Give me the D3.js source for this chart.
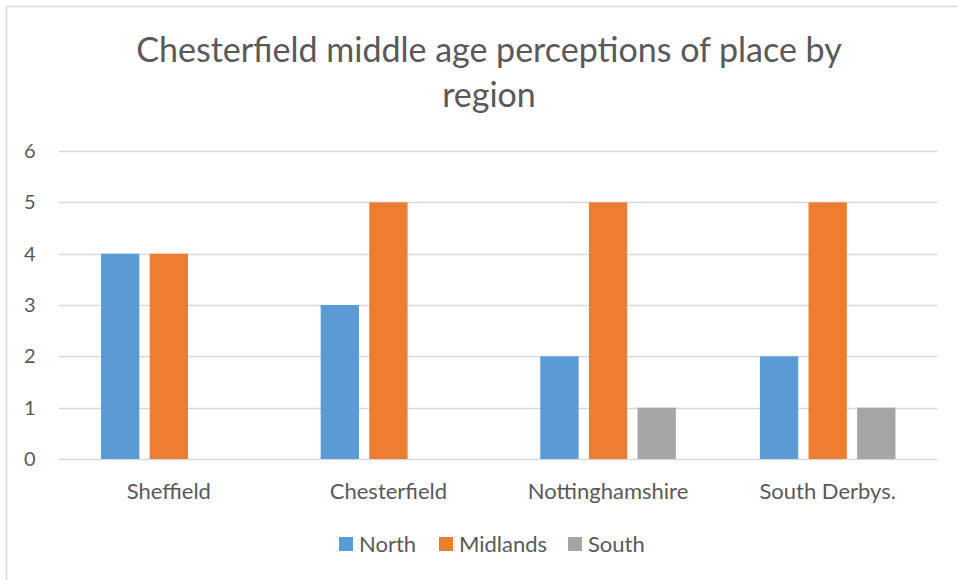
<!DOCTYPE html>
<html><head><meta charset="utf-8">
<script src="https://cdn.jsdelivr.net/npm/d3@7"></script>
<style>html,body{margin:0;padding:0;background:#fff;}svg{display:block;}</style>
</head><body>
<script>
const categories = ["Sheffield", "Chesterfield", "Nottinghamshire", "South Derbys."];
const seriesNames = ["North", "Midlands", "South"];
const northValues = [4, 3, 2, 2];
const midlandsValues = [4, 5, 5, 5];
const southValues = [0, 0, 1, 1];
const yTicks = [0, 1, 2, 3, 4, 5, 6];
const colors = ["#5B9BD5", "#ED7D31", "#A5A5A5"];
const titleLines = ["Chesterfield middle age perceptions of place by", "region"];

const series = [northValues, midlandsValues, southValues];
const W = 958, H = 580;
const font = "Lato, 'Open Sans', sans-serif";
const textColor = "#595959";

const svg = d3.select("body").append("svg").attr("width", W).attr("height", H);
svg.append("rect").attr("x", 6.5).attr("y", 6.5).attr("width", W + 10).attr("height", H + 10)
  .attr("fill", "#fff").attr("stroke", "#D9D9D9").attr("stroke-width", 1.5);

const x = d3.scaleBand().domain(categories).range([59, 937.5]).paddingInner(0).paddingOuter(0);
const xi = d3.scaleBand().domain(seriesNames).range([0, x.bandwidth()]).paddingInner(0.212).paddingOuter(0.865);
const y = d3.scaleLinear().domain([0, 6]).range([459, 151]);

// gridlines
svg.append("g").selectAll("line").data(yTicks).join("line")
  .attr("x1", 59).attr("x2", 937.5)
  .attr("y1", d => Math.round(y(d)) + 0.5).attr("y2", d => Math.round(y(d)) + 0.5)
  .attr("stroke", "#D9D9D9").attr("stroke-width", 1.3);

// y tick labels
svg.append("g").selectAll("text").data(yTicks).join("text")
  .attr("x", 35.5).attr("y", d => y(d) + 7)
  .attr("text-anchor", "end").attr("font-family", font).attr("font-size", 20)
  .attr("fill", textColor).text(d => d);

// bars
const groups = svg.append("g").selectAll("g").data(categories).join("g")
  .attr("transform", c => `translate(${x(c)},0)`);
groups.selectAll("rect").data((c, ci) => seriesNames.map((s, si) => ({s, si, v: series[si][ci]})))
  .join("rect")
  .attr("x", d => xi(d.s)).attr("width", xi.bandwidth())
  .attr("y", d => y(d.v)).attr("height", d => y(0) - y(d.v))
  .attr("fill", d => colors[d.si]);

// category labels
svg.append("g").selectAll("text").data(categories).join("text")
  .attr("x", c => x(c) + x.bandwidth() / 2).attr("y", 499)
  .attr("text-anchor", "middle").attr("font-family", font).attr("font-size", 22)
  .attr("fill", textColor).text(c => c);

// title
svg.append("g").selectAll("text").data(titleLines).join("text")
  .attr("x", 489).attr("y", (d, i) => 62 + i * 45)
  .attr("text-anchor", "middle").attr("font-family", font).attr("font-size", 34)
  .attr("fill", textColor).text(d => d);

// legend
const legendX = [339, 439, 568];
const lg = svg.append("g").selectAll("g").data(seriesNames).join("g")
  .attr("transform", (d, i) => `translate(${legendX[i]},537)`);
lg.append("rect").attr("width", 14).attr("height", 14).attr("fill", (d, i) => colors[i]);
lg.append("text").attr("x", 20).attr("y", 15)
  .attr("font-family", font).attr("font-size", 22).attr("fill", textColor).text(d => d);
</script>
</body></html>
